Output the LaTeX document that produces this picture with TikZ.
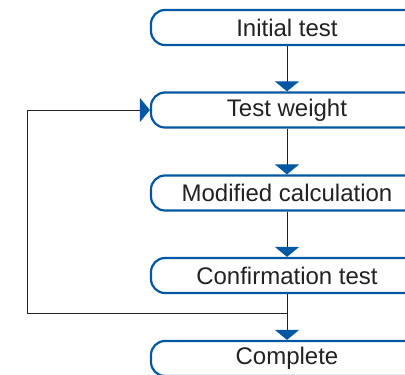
\documentclass[tikz,border=0pt]{standalone}
\usepackage{fontspec}
\setmainfont{Liberation Sans}
\usepackage{tikz}
\usetikzlibrary{arrows.meta,positioning,calc}
\definecolor{boxblue}{HTML}{0057A3}
\definecolor{linegray}{HTML}{222222}

\begin{document}
\begin{tikzpicture}[x=1pt,y=-1pt,
  stage/.style={draw=boxblue,line width=2.2pt,rounded corners=14pt,
    minimum width=272pt,minimum height=35pt,inner sep=0pt,
    font=\fontsize{24}{29}\selectfont,text=linegray},
  flow/.style={draw=linegray,line width=1pt,
    -{Triangle[length=10pt,width'=0pt 2.4,color=boxblue]}}]
\useasboundingbox (0,0) rectangle (405,375);
\clip (0,0) rectangle (405,375);
% stages
\node[stage] (init) at (287,27.5) {Initial test};
\node[stage] (weight) at (287,110) {Test weight};
\node[stage] (calc) at (287,193) {Modified calculation};
\node[stage] (confirm) at (287,275.5) {Confirmation test};
\node[stage] (done) at (287,358.5) {Complete};
% main flow
\draw[flow] (init) -- (weight);
\draw[flow] (weight) -- (calc);
\draw[flow] (calc) -- (confirm);
\draw[flow] (confirm) -- (done);
% loop back to test weight
\coordinate (split) at (287,313);
\coordinate (back) at (27,313);
\draw[flow] (split) -- (back) |- (weight.west);
\end{tikzpicture}
\end{document}
